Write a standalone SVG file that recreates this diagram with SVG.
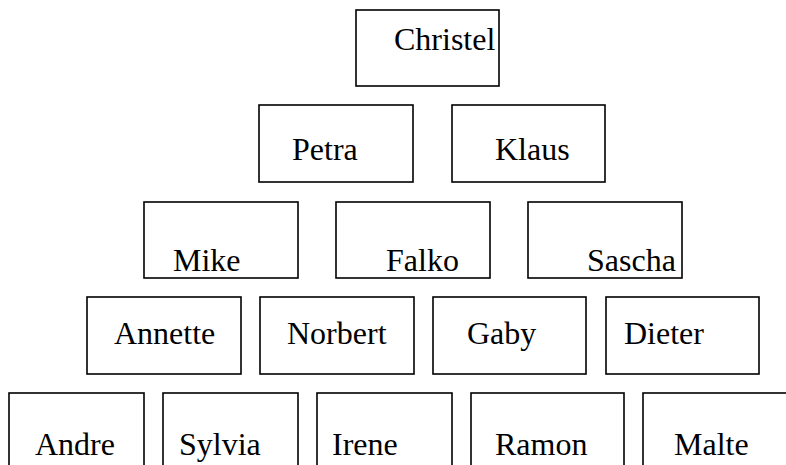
<svg xmlns="http://www.w3.org/2000/svg" width="786" height="465" viewBox="0 0 786 465">
<style>
rect{fill:#fff;stroke:#000;stroke-width:1.6}
text{font-family:"Liberation Serif","Times New Roman",serif;font-size:32px;fill:#000}
</style>
<rect x="0" y="0" width="786" height="465" style="stroke:none"/>
<g id="connectors"></g>
<g id="christel"><rect x="356" y="10" width="143" height="76"/><text x="394" y="50">Christel</text></g>
<g id="petra"><rect x="259" y="105" width="154" height="77"/><text x="292" y="160">Petra</text></g>
<g id="klaus"><rect x="452" y="105" width="153" height="77"/><text x="495" y="160">Klaus</text></g>
<g id="mike"><rect x="144" y="202" width="154" height="76"/><text x="173" y="271">Mike</text></g>
<g id="falko"><rect x="336" y="202" width="154" height="76"/><text x="386" y="271">Falko</text></g>
<g id="sascha"><rect x="528" y="202" width="154" height="76"/><text x="587" y="271">Sascha</text></g>
<g id="annette"><rect x="87" y="297" width="154" height="77"/><text x="114" y="344">Annette</text></g>
<g id="norbert"><rect x="260" y="297" width="154" height="77"/><text x="287" y="344">Norbert</text></g>
<g id="gaby"><rect x="433" y="297" width="153" height="77"/><text x="467" y="344">Gaby</text></g>
<g id="dieter"><rect x="606" y="297" width="153" height="77"/><text x="624" y="344">Dieter</text></g>
<g id="andre"><rect x="9" y="393" width="135" height="80"/><text x="35" y="455">Andre</text></g>
<g id="sylvia"><rect x="163" y="393" width="135" height="80"/><text x="179" y="455">Sylvia</text></g>
<g id="irene"><rect x="317" y="393" width="135" height="80"/><text x="332" y="455">Irene</text></g>
<g id="ramon"><rect x="471" y="393" width="153" height="80"/><text x="495" y="455">Ramon</text></g>
<g id="malte"><rect x="643" y="393" width="160" height="80"/><text x="674" y="455">Malte</text></g>
</svg>
